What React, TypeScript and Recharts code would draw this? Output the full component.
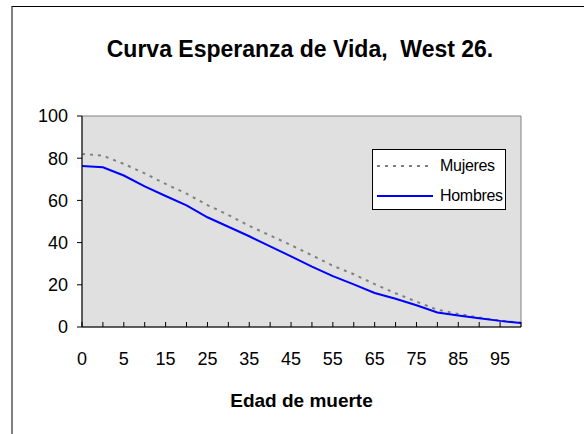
import React from "react";
import { Legend, Line, LineChart, ReferenceArea, XAxis, YAxis } from "recharts";

const edades = ["0", "1", "5", "10", "15", "20", "25", "30", "35", "40", "45", "50", "55", "60", "65", "70", "75", "80", "85", "90", "95", "100"];
const mujeres = [82.0, 81.2, 77.3, 72.8, 67.8, 63.2, 57.8, 53.1, 47.9, 43.4, 38.8, 34.0, 29.0, 25.0, 20.3, 16.0, 12.0, 8.2, 6.2, 4.5, 3.0, 2.1];
const hombres = [76.3, 75.7, 71.8, 66.6, 62.1, 57.6, 52.0, 47.5, 43.0, 38.2, 33.5, 28.6, 24.1, 20.2, 16.1, 13.4, 10.3, 6.9, 5.5, 4.2, 2.9, 1.9];
const yTicks = [0, 20, 40, 60, 80, 100];
const seriesOrder = ["Mujeres", "Hombres"];

const data = edades.map((edad, i) => ({ edad, Mujeres: mujeres[i], Hombres: hombres[i] }));

const font = "'Liberation Sans', Arial, sans-serif";

// excel only labels every other category, but keeps all the tick marks
function XTick(props: any) {
  const { x, y, payload, index } = props;
  if (index % 2 === 1) return <g />;
  return (
    <text x={x} y={y} textAnchor="middle" fontSize={18} fontFamily={font} fill="#000">
      {payload.value}
    </text>
  );
}

function LegendBox(props: any) {
  const items = [...(props.payload || [])].sort(
    (a: any, b: any) => seriesOrder.indexOf(a.value) - seriesOrder.indexOf(b.value)
  );
  return (
    <div
      style={{
        border: "1px solid #000",
        background: "#fff",
        width: 134,
        height: 61,
        padding: "1px 0 0 4px",
        boxSizing: "border-box",
        fontFamily: font,
        fontSize: 16,
      }}
    >
      {items.map((entry: any) => (
        <div key={entry.value} style={{ display: "flex", alignItems: "center", height: 30 }}>
          <svg width={56} height={4}>
            <line
              x1={0}
              y1={2}
              x2={56}
              y2={2}
              stroke={entry.color}
              strokeWidth={2}
              strokeDasharray={entry.payload?.strokeDasharray}
            />
          </svg>
          <span style={{ marginLeft: 7, color: "#000", letterSpacing: -0.3 }}>{entry.value}</span>
        </div>
      ))}
    </div>
  );
}

export default function App() {
  return (
    <div style={{ position: "fixed", left: 0, top: 0, width: 584, height: 434, overflow: "hidden", background: "#fff" }}>
      <div
        style={{
          position: "absolute",
          left: 11,
          top: 6,
          width: 700,
          height: 600,
          borderTop: "1px solid #000",
          borderLeft: "2px solid #808080",
        }}
      />
      <div
        style={{
          position: "absolute",
          left: 0,
          top: 38,
          width: 600,
          textAlign: "center",
          fontFamily: font,
          fontWeight: "bold",
          fontSize: 23,
          lineHeight: 1,
          whiteSpace: "pre",
        }}
      >
        {"Curva Esperanza de Vida,  West 26."}
      </div>
      <LineChart width={584} height={434} data={data} margin={{ top: 116, right: 63, bottom: 77, left: 0 }}>
        <ReferenceArea x1="0" x2="100" y1={0} y2={100} fill="#E0E0E0" fillOpacity={1} stroke="#808080" />
        <XAxis
          dataKey="edad"
          interval={0}
          height={30}
          tickSize={-5}
          tickMargin={43}
          tick={XTick}
          axisLine={{ stroke: "#000" }}
          tickLine={{ stroke: "#000" }}
        />
        <YAxis
          domain={[0, 100]}
          ticks={yTicks}
          width={82}
          tickSize={5}
          tickMargin={9}
          tick={{ fill: "#000", fontSize: 18, fontFamily: font }}
          axisLine={{ stroke: "#000" }}
          tickLine={{ stroke: "#000" }}
        />
        <Legend
          layout="vertical"
          align="center"
          verticalAlign="middle"
          wrapperStyle={{ left: 372, top: 149, width: 136, height: 63 }}
          content={LegendBox}
        />
        <Line
          dataKey="Mujeres"
          stroke="#808080"
          strokeWidth={2}
          strokeDasharray="3 5"
          dot={false}
          isAnimationActive={false}
        />
        <Line dataKey="Hombres" stroke="#0000FF" strokeWidth={2} dot={false} isAnimationActive={false} />
      </LineChart>
      <div
        style={{
          position: "absolute",
          left: 0,
          top: 391,
          width: 603,
          textAlign: "center",
          fontFamily: font,
          fontWeight: "bold",
          fontSize: 19,
          lineHeight: 1,
        }}
      >
        Edad de muerte
      </div>
    </div>
  );
}
